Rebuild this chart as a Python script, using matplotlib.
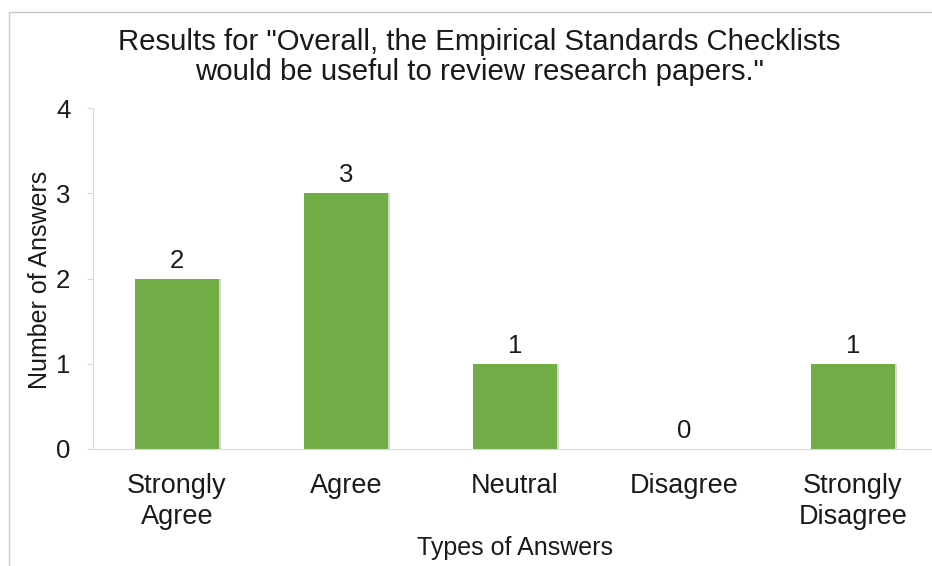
import matplotlib
matplotlib.use("Agg")
import matplotlib.pyplot as plt
from matplotlib.patches import Rectangle

categories = ["Strongly\nAgree", "Agree", "Neutral", "Disagree", "Strongly\nDisagree"]
answers = [2, 3, 1, 0, 1]
yticks = [0, 1, 2, 3, 4]

title_lines = ['Results for "Overall, the Empirical Standards Checklists',
               'would be useful to review research papers."']

plt.rcParams["font.family"] = ["Liberation Sans", "DejaVu Sans"]
txt_color = "#1a1a1a"

fig = plt.figure(figsize=(9.32, 5.66), dpi=100)
fig.patch.set_facecolor("white")

# light frame around the chart area
fig.add_artist(Rectangle((9 / 932, -0.05), 1.2, 1.05 - 12 / 566,
                         transform=fig.transFigure, fill=False,
                         edgecolor="#c8c8c8", linewidth=1.0))

ax = fig.add_axes([92.5 / 932, 117 / 566, 845 / 932, 341 / 566])
x = list(range(len(categories)))

# soft shadow behind each bar
ax.bar([i + 0.012 for i in x], answers, width=0.5, color="#bdbdbd",
       alpha=0.6, zorder=1)
bars = ax.bar(x, answers, width=0.5, color="#70ad47", zorder=2)

for xi, v in zip(x, answers):
    ax.text(xi, v + 0.07, str(v), ha="center", va="bottom",
            fontsize=18.5, color=txt_color)

ax.set_xlim(-0.5, 4.5)
ax.set_ylim(0, 4)
ax.set_yticks(yticks)
ax.set_yticklabels([str(t) for t in yticks], fontsize=18.5, color=txt_color)
ax.set_xticks(x)
ax.set_xticklabels(categories, fontsize=19.5, color=txt_color, linespacing=1.28)

for s in ["top", "right"]:
    ax.spines[s].set_visible(False)
ax.spines["left"].set_color("#d9d9d9")
ax.spines["bottom"].set_color("#d9d9d9")
ax.tick_params(axis="y", length=4, color="#d9d9d9", pad=12)
ax.tick_params(axis="x", length=0, pad=17)

for line, ypix in zip(title_lines, [42, 72]):
    fig.text(479 / 932, 1 - ypix / 566, line, ha="center", va="center",
             fontsize=21.2, color=txt_color)
fig.text(515 / 932, 1 - 548 / 566, "Types of Answers", ha="center",
         va="center", fontsize=18, color=txt_color)
fig.text(40 / 932, 1 - 280 / 566, "Number of Answers", ha="center",
         va="center", rotation=90, fontsize=18, color=txt_color)

fig.savefig("out.png", dpi=100)
